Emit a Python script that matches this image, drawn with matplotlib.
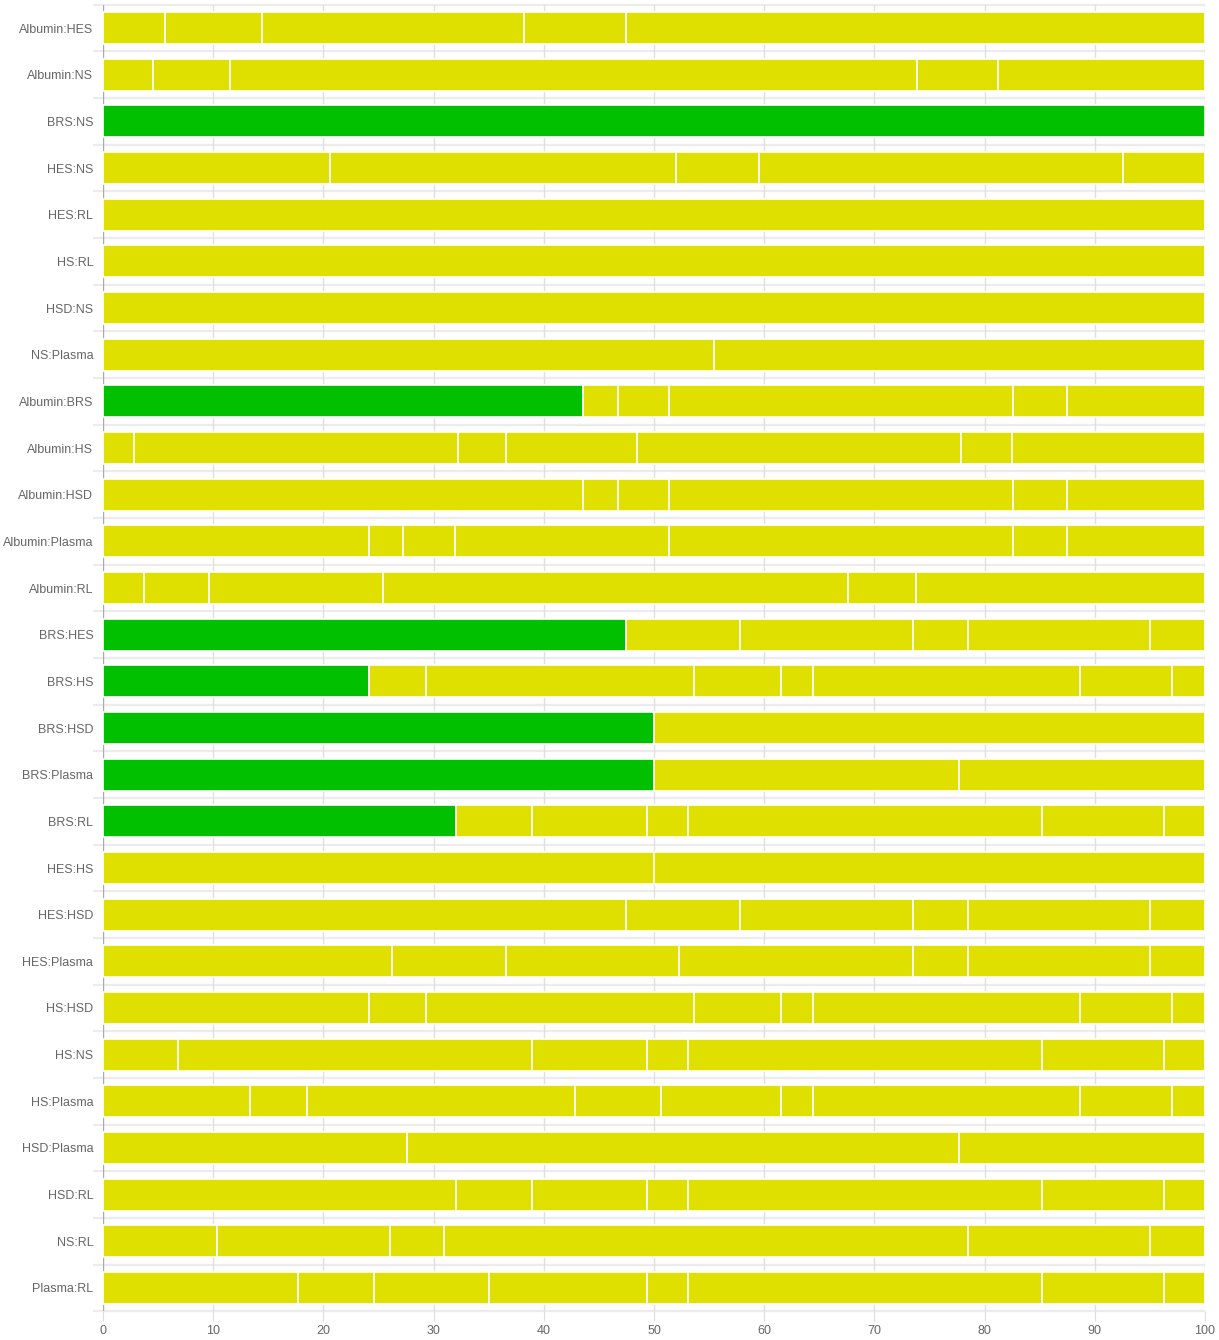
import numpy as np
import matplotlib.pyplot as plt

plt.rcParams['font.family'] = ['Liberation Sans', 'DejaVu Sans']

categories = [
    'Albumin:HES', 'Albumin:NS', 'BRS:NS', 'HES:NS', 'HES:RL', 'HS:RL', 'HSD:NS',
    'NS:Plasma', 'Albumin:BRS', 'Albumin:HS', 'Albumin:HSD', 'Albumin:Plasma',
    'Albumin:RL', 'BRS:HES', 'BRS:HS', 'BRS:HSD', 'BRS:Plasma', 'BRS:RL',
    'HES:HS', 'HES:HSD', 'HES:Plasma', 'HS:HSD', 'HS:NS', 'HS:Plasma',
    'HSD:Plasma', 'HSD:RL', 'NS:RL', 'Plasma:RL',
]

# segment widths per row (percent), left to right
segments = [
    [5.6, 8.8, 23.8, 9.3, 52.5],
    [4.5, 7.0, 62.4, 7.3, 18.8],
    [100],
    [20.6, 31.4, 7.5, 33.1, 7.4],
    [100],
    [100],
    [100],
    [55.4, 44.6],
    [43.6, 3.1, 4.7, 31.2, 4.9, 12.5],
    [2.8, 29.4, 4.4, 11.9, 29.4, 4.6, 17.5],
    [43.6, 3.1, 4.7, 31.2, 4.9, 12.5],
    [24.1, 3.1, 4.7, 19.5, 31.2, 4.9, 12.5],
    [3.7, 5.9, 15.8, 42.2, 6.2, 26.2],
    [47.5, 10.3, 15.7, 5.0, 16.5, 5.0],
    [24.1, 5.2, 24.3, 7.9, 2.9, 24.3, 8.3, 3.0],
    [50, 50],
    [50, 27.7, 22.3],
    [32.0, 6.9, 10.5, 3.7, 32.1, 11.1, 3.7],
    [50, 50],
    [47.5, 10.3, 15.7, 5.0, 16.5, 5.0],
    [26.2, 10.4, 15.7, 21.2, 5.0, 16.5, 5.0],
    [24.1, 5.2, 24.3, 7.9, 2.9, 24.3, 8.3, 3.0],
    [6.8, 32.1, 10.5, 3.7, 32.1, 11.1, 3.7],
    [13.3, 5.2, 24.3, 7.8, 10.9, 2.9, 24.3, 8.3, 3.0],
    [27.6, 50.1, 22.3],
    [32.0, 6.9, 10.5, 3.7, 32.1, 11.1, 3.7],
    [10.3, 15.7, 4.9, 47.6, 16.5, 5.0],
    [17.7, 6.9, 10.4, 14.4, 3.7, 32.1, 11.1, 3.7],
]

# rows whose first segment is green
green_first = ['BRS:NS', 'Albumin:BRS', 'BRS:HES', 'BRS:HS', 'BRS:HSD', 'BRS:Plasma', 'BRS:RL']

yellow = '#e0e000'
green = '#00c000'

fig = plt.figure(figsize=(12.19, 13.40), dpi=100)
ax = fig.add_axes([0.0845, 0.0214, 0.904, 0.9751])

n = len(categories)
y = np.arange(n)

for i, (cat, segs) in enumerate(zip(categories, segments)):
    left = 0
    for j, w in enumerate(segs):
        c = green if (j == 0 and cat in green_first) else yellow
        ax.barh(i, w, left=left, height=0.69, color=c, edgecolor='white',
                linewidth=1.2, zorder=3)
        left += w

ax.set_ylim(n - 0.5, -0.5)
ax.set_xlim(0, 100)
ax.set_xticks(np.arange(0, 101, 10))
ax.set_yticks(y)
ax.set_yticklabels(categories)

# gridlines
for xv in np.arange(0, 101, 10):
    ax.axvline(xv, color='#aaaaaa' if xv == 0 else '#e0e0e0', lw=1, zorder=1)
ax.hlines(np.arange(-0.5, n, 1), -0.9, 100, color='#ececec', lw=1.6,
          zorder=0, clip_on=False)

for s in ax.spines.values():
    s.set_visible(False)

ax.tick_params(axis='y', length=0, pad=7, labelsize=9, labelcolor='#666666')
ax.tick_params(axis='x', length=7, color='#dddddd', pad=3, labelsize=9,
               labelcolor='#666666')

fig.savefig('out.png', dpi=100)
